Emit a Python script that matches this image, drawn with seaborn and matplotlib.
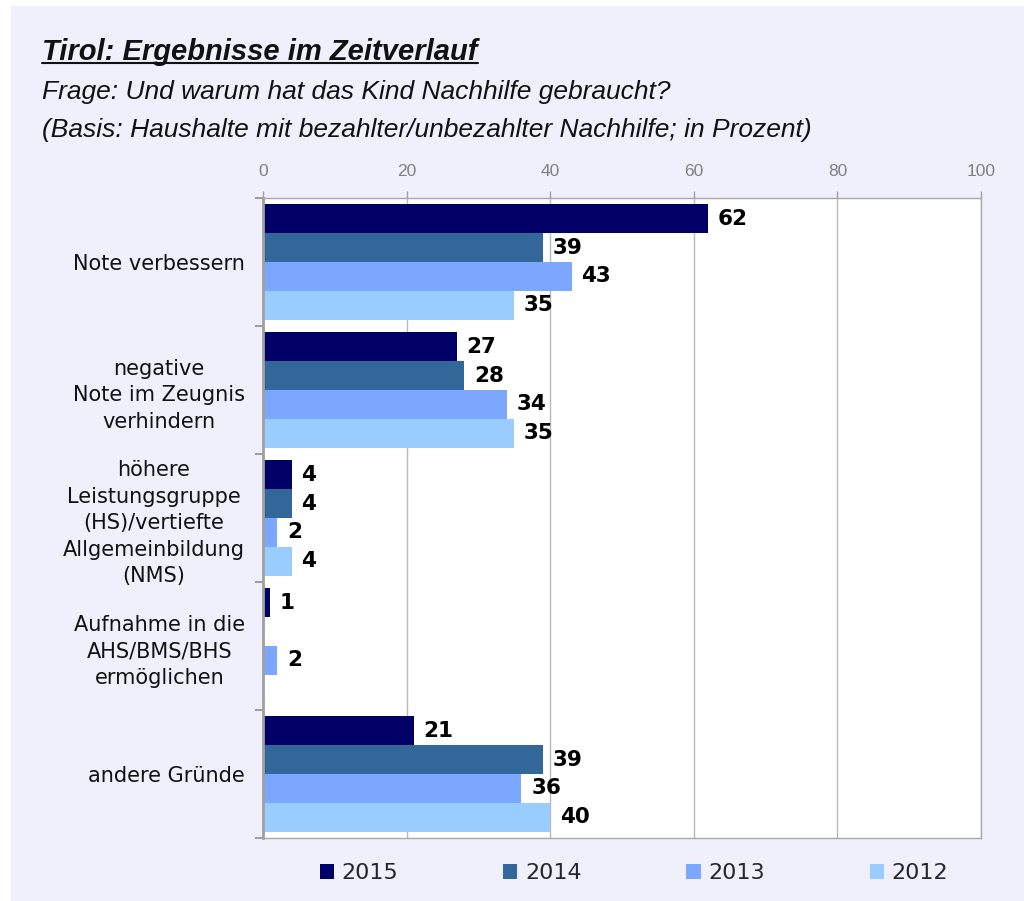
import numpy as np
import pandas as pd
import seaborn as sns
import matplotlib
matplotlib.use("Agg")
import matplotlib.pyplot as plt
from matplotlib.patches import Rectangle
from matplotlib.lines import Line2D

# ---------------- data ----------------
categories = [
    "Note verbessern",
    "negative\nNote im Zeugnis\nverhindern",
    "höhere\nLeistungsgruppe\n(HS)/vertiefte\nAllgemeinbildung\n(NMS)",
    "Aufnahme in die\nAHS/BMS/BHS\nermöglichen",
    "andere Gründe",
]
years = ["2015", "2014", "2013", "2012"]
v2015 = [62, 27, 4, 1, 21]
v2014 = [39, 28, 4, np.nan, 39]
v2013 = [43, 34, 2, 2, 36]
v2012 = [35, 35, 4, np.nan, 40]
x_ticks = [0, 20, 40, 60, 80, 100]
colors = ["#000066", "#336699", "#7BA7FF", "#99CCFF"]

title = "Tirol: Ergebnisse im Zeitverlauf"
subtitle1 = "Frage: Und warum hat das Kind Nachhilfe gebraucht?"
subtitle2 = "(Basis: Haushalte mit bezahlter/unbezahlter Nachhilfe; in Prozent)"

df = pd.DataFrame({
    "Kategorie": categories * 4,
    "Jahr": np.repeat(years, len(categories)),
    "Wert": v2015 + v2014 + v2013 + v2012,
})

# ---------------- figure ----------------
sns.set_theme(style="white")
plt.rcParams["font.family"] = ["DejaVu Sans"]

W, H = 1024, 901
fig = plt.figure(figsize=(W / 100, H / 100), dpi=100)
fig.patch.set_facecolor("white")
fig.patches.append(Rectangle((11 / W, 0), 1, 1 - 6 / H, transform=fig.transFigure,
                             facecolor="#F0F0FD", edgecolor="none", zorder=-10))

ax = fig.add_axes([263 / W, 63 / H, 718 / W, 640 / H])
ax.set_facecolor("white")

sns.barplot(data=df, y="Kategorie", x="Wert", hue="Jahr", hue_order=years,
            order=categories, palette=colors, orient="h", width=0.9,
            errorbar=None, saturation=1, linewidth=0, ax=ax)

handles, labels = ax.get_legend_handles_labels()
if ax.get_legend() is not None:
    ax.get_legend().remove()

# value labels
for cont in ax.containers:
    labs = []
    for b in cont:
        w = b.get_width()
        labs.append(f"{w:.0f}" if np.isfinite(w) and w > 0 else "")
    ax.bar_label(cont, labels=labs, padding=7, fontsize=15.5, fontweight="bold",
                 color="black")

# axes styling
ax.set_xlim(0, 100)
ax.set_ylim(len(categories) - 0.5, -0.5)
ax.set_xlabel("")
ax.set_ylabel("")
ax.xaxis.tick_top()
ax.set_xticks(x_ticks)
ax.set_xticklabels([str(t) for t in x_ticks],
                   family=["Liberation Sans Narrow", "Liberation Sans", "DejaVu Sans"])
ax.tick_params(axis="x", top=True, bottom=False, length=5, width=1, color="#A0A0A0",
               pad=9, labelsize=12.5, labelcolor="#808080")

ax.set_yticks(np.arange(-0.5, len(categories), 1), minor=True)
ax.tick_params(axis="y", which="minor", left=True, length=6, width=1.5, color="#A0A0A0")
ax.tick_params(axis="y", which="major", left=False, length=0, pad=13, labelsize=15,
               labelcolor="#111111")
for lbl in ax.get_yticklabels():
    lbl.set_multialignment("center")
    lbl.set_linespacing(1.4)

ax.xaxis.grid(True, color="#B8B8B8", lw=1)
ax.yaxis.grid(False)
ax.set_axisbelow(True)
for side in ["top", "right", "bottom"]:
    ax.spines[side].set_visible(True)
    ax.spines[side].set_color("#A8A8A8")
    ax.spines[side].set_linewidth(1)
ax.spines["left"].set_color("#A0A0A0")
ax.spines["left"].set_linewidth(2)

# legend
fig.legend(handles, labels, loc="center", bbox_to_anchor=(634 / W, 28 / H), ncol=4,
           frameon=False, fontsize=16, handlelength=0.65, handleheight=0.65,
           handletextpad=0.35, columnspacing=4.7)

# titles
t = fig.text(42 / W, 1 - 60 / H, title, fontsize=21, fontweight="bold", style="italic",
             family=["Liberation Sans Narrow", "Liberation Sans", "DejaVu Sans"],
             va="baseline", ha="left", color="#111111")
fig.text(42 / W, 1 - 99 / H, subtitle1, fontsize=19, style="italic",
         family=["Liberation Sans", "DejaVu Sans"], va="baseline", ha="left", color="#111111")
fig.text(42 / W, 1 - 137 / H, subtitle2, fontsize=19, style="italic",
         family=["Liberation Sans", "DejaVu Sans"], va="baseline", ha="left", color="#111111")

# underline for title
fig.canvas.draw()
bb = t.get_window_extent(renderer=fig.canvas.get_renderer())
uy = (H - 63) / H
fig.add_artist(Line2D([bb.x0 / W, bb.x1 / W], [uy, uy], transform=fig.transFigure,
                      color="#111111", lw=1.5))

fig.savefig("out.png", dpi=100, facecolor=fig.get_facecolor())
